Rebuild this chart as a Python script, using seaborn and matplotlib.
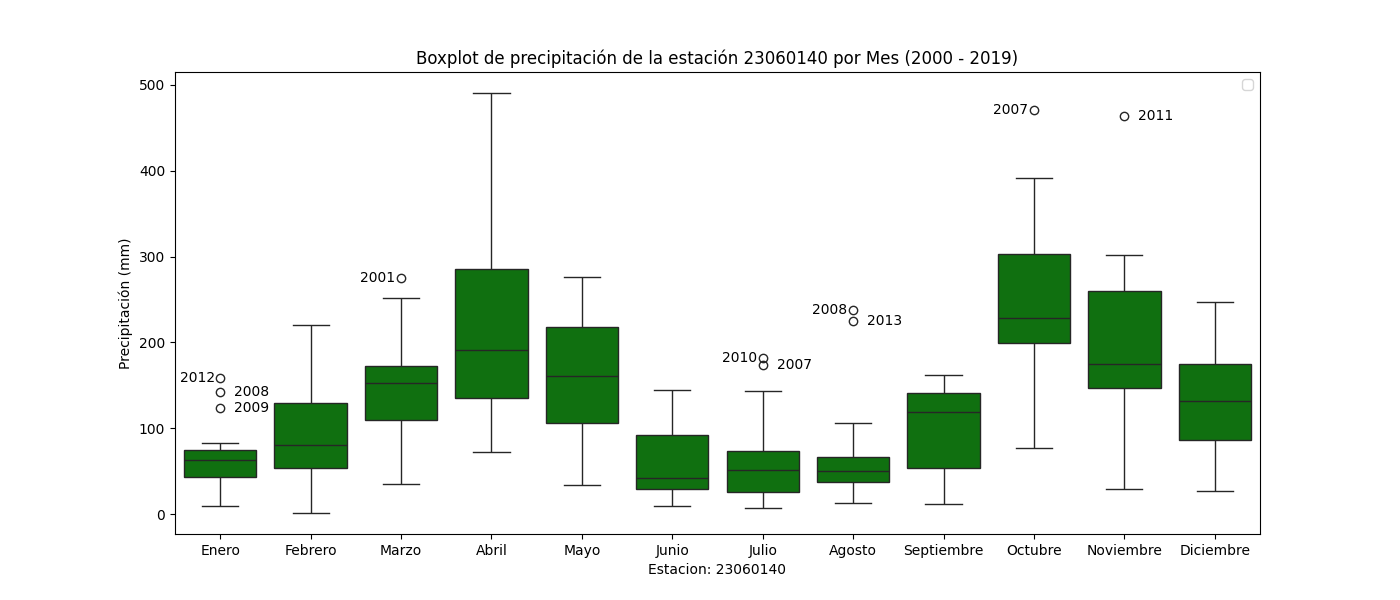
import numpy as np
import pandas as pd
import matplotlib
matplotlib.use("Agg")
import matplotlib.pyplot as plt
import seaborn as sns

# precipitacion mensual (mm), un valor por año 2000..2019
anios = list(range(2000, 2020))
meses = ['Enero', 'Febrero', 'Marzo', 'Abril', 'Mayo', 'Junio', 'Julio',
         'Agosto', 'Septiembre', 'Octubre', 'Noviembre', 'Diciembre']

enero = [62.9, 50, 74.6, 25, 82.7, 42.7, 66, 9.3, 142.2, 123.8,
         72, 55, 158.9, 39, 62.9, 74.6, 33, 69, 42.7, 60]
febrero = [70, 129.4, 1.2, 95, 53.6, 172, 47, 80.4, 220.3, 35,
           120, 150, 62, 80.4, 20, 108, 195, 53.6, 76, 129.4]
marzo = [146, 275.4, 109.6, 168, 35, 152.7, 220, 101, 172.5, 125,
         251.7, 163, 88, 152.7, 195, 109.6, 138, 172.5, 68, 158]
abril = [236, 135.2, 320, 95, 191.5, 490.6, 152, 285.9, 72.3, 168,
         410, 365, 126, 191.5, 112, 182, 285.9, 210, 135.2, 262]
mayo = [175, 106.1, 232, 62, 217.9, 160.8, 33.8, 248, 140, 96,
        276.2, 262, 125, 80, 190, 152, 106.1, 217.9, 160.8, 205]
junio = [42, 92, 15, 37, 144.9, 29.1, 62, 20, 118, 9.3,
         105, 130, 33, 50, 25, 29.1, 42, 78, 92, 40]
julio = [51.3, 22, 73.4, 33, 12, 88, 46, 173.7, 62, 25.6,
         181.4, 143.4, 7, 56, 40, 73.4, 17, 68, 25.6, 51.3]
agosto = [44, 66.4, 27, 58, 106.1, 37.3, 12.8, 50.1, 238.1, 33,
          78, 54, 20, 224.9, 47, 62, 37.3, 41, 66.4, 50.1]
septiembre = [125, 53.6, 147, 11.7, 118.9, 90, 162, 141, 38, 72,
              157, 152, 47, 131, 108, 25, 141, 118.9, 53.6, 137]
octubre = [215, 302.6, 165, 245, 199.3, 360, 228.4, 471.2, 330, 76.9,
           391.6, 285, 188, 228.4, 130, 265, 208, 302.6, 222, 199.3]
noviembre = [162, 259.5, 110, 195, 146.4, 272, 29.1, 174.8, 301.9, 132,
             242, 464.2, 78, 155, 220, 285, 169, 174.8, 146.4, 259.5]
diciembre = [142, 86.2, 195, 65, 174.8, 131.7, 26.8, 232, 112, 78,
             247.1, 215, 100, 174.8, 50, 124, 155, 86.2, 131.7, 166]

valores = [enero, febrero, marzo, abril, mayo, junio, julio, agosto,
           septiembre, octubre, noviembre, diciembre]

# etiquetas de atipicos que van a la izquierda del punto
etiqueta_izq = [('Enero', 2012), ('Marzo', 2001), ('Julio', 2010),
                ('Agosto', 2008), ('Octubre', 2007)]

filas = []
for mes, vals in zip(meses, valores):
    for anio, v in zip(anios, vals):
        filas.append({'Mes': mes, 'Anio': anio, 'Precipitacion': v})
df = pd.DataFrame(filas)

fig, ax = plt.subplots(figsize=(14, 6), dpi=100)
sns.boxplot(data=df, x='Mes', y='Precipitacion', order=meses, color='green', ax=ax)

# anotar los atipicos con el año
for i, mes in enumerate(meses):
    d = df[df['Mes'] == mes]
    q1, q3 = np.percentile(d['Precipitacion'], [25, 75])
    iqr = q3 - q1
    atip = d[(d['Precipitacion'] > q3 + 1.5 * iqr) | (d['Precipitacion'] < q1 - 1.5 * iqr)]
    for _, r in atip.iterrows():
        if (mes, r['Anio']) in etiqueta_izq:
            ax.annotate(str(int(r['Anio'])), (i, r['Precipitacion']), xytext=(-4, 0),
                        textcoords='offset points', ha='right', va='center', fontsize=10)
        else:
            ax.annotate(str(int(r['Anio'])), (i, r['Precipitacion']), xytext=(10, 0),
                        textcoords='offset points', ha='left', va='center', fontsize=10)

ax.set_title('Boxplot de precipitación de la estación 23060140 por Mes (2000 - 2019)')
ax.set_xlabel('Estacion: 23060140')
ax.set_ylabel('Precipitación (mm)')
ax.legend()

plt.savefig('out.png')
